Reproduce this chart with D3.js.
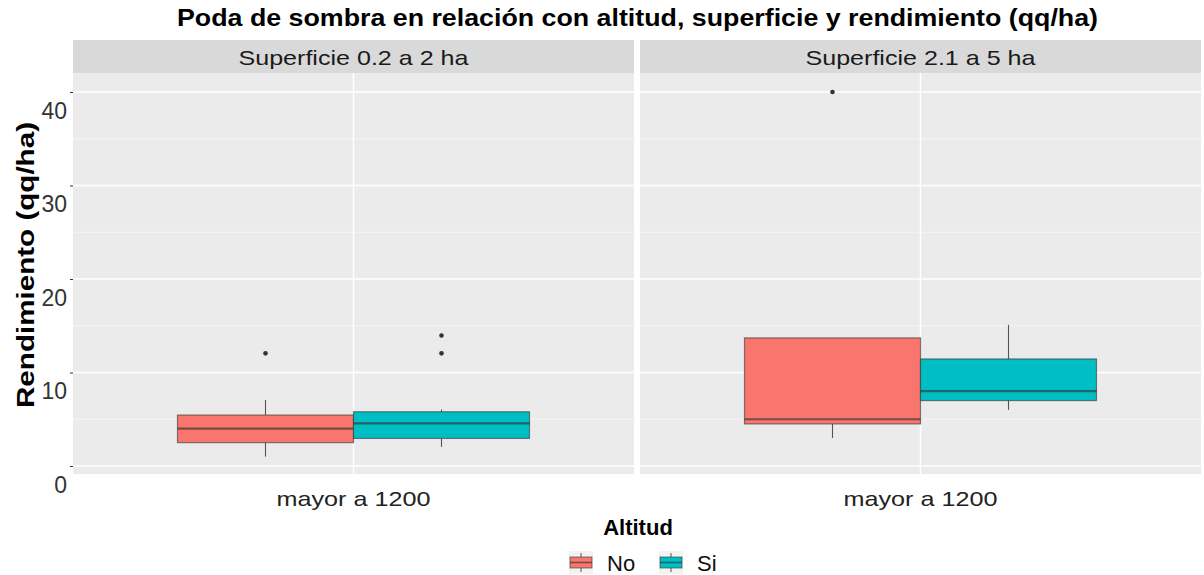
<!DOCTYPE html>
<html>
<head>
<meta charset="utf-8">
<script src="https://cdn.jsdelivr.net/npm/d3@7"></script>
<style>
  html, body { margin: 0; padding: 0; background: #ffffff; }
  svg { display: block; font-family: "Liberation Sans", Arial, Helvetica, sans-serif; }
</style>
</head>
<body>
<svg id="chart" width="1204" height="575"></svg>
<script>
// Facets, groups and box statistics (rendimiento, qq/ha)
const facets = ["Superficie 0.2 a 2 ha", "Superficie 2.1 a 5 ha"];
const category = "mayor a 1200";
const groups = ["No", "Si"];
const groupColors = ["#F8766D", "#00BFC4"];

// [facet][group]: lower whisker, Q1, median, Q3, upper whisker
const lowerWhisker = [[1.0, 2.05], [3.0, 6.0]];
const q1Values     = [[2.5, 2.95], [4.5, 7.0]];
const medianValues = [[4.0, 4.55], [5.0, 8.0]];
const q3Values     = [[5.45, 5.8], [13.7, 11.45]];
const upperWhisker = [[7.05, 6.05], [13.7, 15.1]];
const outlierValues = [[[12.05], [12.05, 13.95]], [[40.0], []]];

const yTicks = [0, 10, 20, 30, 40];
const yMinor = [5, 15, 25, 35];

const svg = d3.select("#chart");

// Layout
const panelTop = 73, panelBottom = 474, stripTop = 40;
const panelRanges = [[73, 634], [640, 1201]];

const y = d3.scaleLinear().domain([0, 40]).range([466, 92]);

// Title
svg.append("text")
  .attr("x", 637.5).attr("y", 26)
  .attr("text-anchor", "middle")
  .attr("font-size", 23).attr("font-weight", "bold").attr("fill", "#000")
  .attr("textLength", 921).attr("lengthAdjust", "spacingAndGlyphs")
  .text("Poda de sombra en relación con altitud, superficie y rendimiento (qq/ha)");

facets.forEach((facet, fi) => {
  const [x0, x1] = panelRanges[fi];
  const cx = (x0 + x1) / 2;
  const g = svg.append("g");

  // Strip
  g.append("rect").attr("x", x0).attr("y", stripTop)
    .attr("width", x1 - x0).attr("height", panelTop - stripTop)
    .attr("fill", "#D9D9D9");
  g.append("text").attr("x", cx).attr("y", 65)
    .attr("text-anchor", "middle").attr("font-size", 21).attr("fill", "#1a1a1a")
    .attr("textLength", 230).attr("lengthAdjust", "spacingAndGlyphs")
    .text(facet);

  // Panel background and grid
  g.append("rect").attr("x", x0).attr("y", panelTop)
    .attr("width", x1 - x0).attr("height", panelBottom - panelTop)
    .attr("fill", "#EBEBEB");
  g.selectAll(".minor").data(yMinor).join("line")
    .attr("x1", x0).attr("x2", x1)
    .attr("y1", d => y(d)).attr("y2", d => y(d))
    .attr("stroke", "#F5F5F5").attr("stroke-width", 1);
  g.selectAll(".major").data(yTicks).join("line")
    .attr("x1", x0).attr("x2", x1)
    .attr("y1", d => y(d)).attr("y2", d => y(d))
    .attr("stroke", "#FFFFFF").attr("stroke-width", 1.4);

  // Category position and dodged groups
  const xCat = d3.scaleBand().domain([category]).range([x0, x1]).paddingOuter(0.6).paddingInner(0);
  const catCenter = xCat(category) + xCat.bandwidth() / 2;
  g.append("line").attr("x1", catCenter).attr("x2", catCenter)
    .attr("y1", panelTop).attr("y2", panelBottom)
    .attr("stroke", "#FFFFFF").attr("stroke-width", 1.4);

  const dodgeWidth = 352;
  const xGroup = d3.scaleBand().domain(groups)
    .range([catCenter - dodgeWidth / 2, catCenter + dodgeWidth / 2]);

  groups.forEach((grp, gi) => {
    const bx = xGroup(grp), bw = xGroup.bandwidth(), mx = bx + bw / 2;
    const lw = lowerWhisker[fi][gi], q1 = q1Values[fi][gi], md = medianValues[fi][gi];
    const q3 = q3Values[fi][gi], uw = upperWhisker[fi][gi];

    // Whiskers
    g.append("line").attr("x1", mx).attr("x2", mx)
      .attr("y1", y(uw)).attr("y2", y(q3))
      .attr("stroke", "#555").attr("stroke-width", 1.1);
    g.append("line").attr("x1", mx).attr("x2", mx)
      .attr("y1", y(q1)).attr("y2", y(lw))
      .attr("stroke", "#555").attr("stroke-width", 1.1);

    // Box
    g.append("rect").attr("x", bx).attr("y", y(q3))
      .attr("width", bw).attr("height", y(q1) - y(q3))
      .attr("fill", groupColors[gi])
      .attr("stroke", "#333").attr("stroke-opacity", 0.6).attr("stroke-width", 1.2);
    // Median
    g.append("line").attr("x1", bx).attr("x2", bx + bw)
      .attr("y1", y(md)).attr("y2", y(md))
      .attr("stroke", "#333").attr("stroke-opacity", 0.65).attr("stroke-width", 2.2);

    // Outliers
    g.selectAll(null).data(outlierValues[fi][gi]).join("circle")
      .attr("cx", mx).attr("cy", d => y(d)).attr("r", 2.3)
      .attr("fill", "#333");
  });

  // X axis label
  g.append("text").attr("x", catCenter).attr("y", 506)
    .attr("text-anchor", "middle").attr("font-size", 21).attr("fill", "#222")
    .attr("textLength", 154).attr("lengthAdjust", "spacingAndGlyphs")
    .text(category);
});

// Y axis
const yAxis = d3.axisLeft(y).tickValues(yTicks).tickSize(3).tickPadding(6);
const ya = svg.append("g").attr("transform", "translate(73,0)").call(yAxis);
ya.select(".domain").remove();
ya.selectAll(".tick line").attr("stroke", "#333");
ya.selectAll(".tick text")
  .attr("font-size", 23).attr("fill", "#333")
  .attr("font-family", "'Liberation Sans', Arial, sans-serif")
  .attr("dy", "1.15em").attr("x", -6);

svg.append("text")
  .attr("transform", "translate(34,265) rotate(-90)")
  .attr("text-anchor", "middle").attr("font-size", 24).attr("font-weight", "bold").attr("fill", "#000")
  .attr("textLength", 286).attr("lengthAdjust", "spacingAndGlyphs")
  .text("Rendimiento (qq/ha)");

// Legend
svg.append("text").attr("x", 638).attr("y", 535)
  .attr("text-anchor", "middle").attr("font-size", 22).attr("font-weight", "bold").attr("fill", "#000")
  .text("Altitud");

const legendX = [569, 659];
groups.forEach((grp, gi) => {
  const lx = legendX[gi], kw = 24, top = 551, kh = 23;
  const lg = svg.append("g");
  lg.append("rect").attr("x", lx).attr("y", top).attr("width", kw).attr("height", kh).attr("fill", "#F2F2F2");
  lg.append("line").attr("x1", lx + kw / 2).attr("x2", lx + kw / 2)
    .attr("y1", top + 2).attr("y2", top + kh - 2).attr("stroke", "#555").attr("stroke-width", 1);
  lg.append("rect").attr("x", lx + 1).attr("y", top + 6).attr("width", kw - 2).attr("height", 11)
    .attr("fill", groupColors[gi]).attr("stroke", "#333").attr("stroke-opacity", 0.6).attr("stroke-width", 1);
  lg.append("line").attr("x1", lx + 1).attr("x2", lx + kw - 1)
    .attr("y1", top + 11.5).attr("y2", top + 11.5)
    .attr("stroke", "#333").attr("stroke-opacity", 0.65).attr("stroke-width", 1.6);
  lg.append("text").attr("x", lx + kw + 14).attr("y", 571)
    .attr("font-size", 22).attr("fill", "#111").text(grp);
});
</script>
</body>
</html>
